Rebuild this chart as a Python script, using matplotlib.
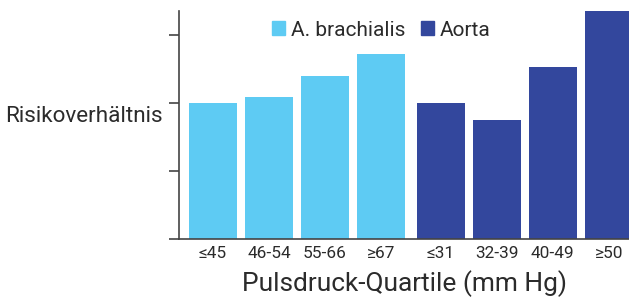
import matplotlib
matplotlib.use("Agg")
import matplotlib.pyplot as plt
from matplotlib.patches import Patch

plt.rcParams['font.family'] = ['Roboto', 'DejaVu Sans']

categories_brach = ["≤45", "46-54", "55-66", "≥67"]
categories_aorta = ["≤31", "32-39", "40-49", "≥50"]
values_brach = [1.00, 1.05, 1.20, 1.36]
values_aorta = [1.00, 0.88, 1.27, 1.70]
series_names = ["A. brachialis", "Aorta"]
yticks = [0, 0.5, 1.0, 1.5]

c_light = "#5ECBF3"
c_dark = "#33479D"
text_c = "#2b2b2b"

W, H = 629, 297
fig = plt.figure(figsize=(W/100, H/100), dpi=100)
ax = fig.add_axes([179.3/W, (H-239.3)/H, (W-179.3)/W, (239.3-11)/H])

x1 = [0, 1, 2, 3]
x2 = [4.07, 5.07, 6.07, 7.07]
bw = 0.86
ax.bar(x1, values_brach, width=bw, color=c_light, label=series_names[0])
ax.bar(x2, values_aorta, width=bw, color=c_dark, label=series_names[1])

ax.set_xlim(-0.60, 7.43)
ax.set_ylim(0, 1.68)
ax.set_yticks(yticks)
ax.set_yticklabels([])
ax.tick_params(axis='y', length=7, width=1.2, color="#444444")
ax.set_xticks(x1 + x2)
ax.set_xticklabels(categories_brach + categories_aorta, fontsize=12.4, color=text_c)
ax.tick_params(axis='x', length=0, pad=5)
for s in ['top', 'right']:
    ax.spines[s].set_visible(False)
for s in ['left', 'bottom']:
    ax.spines[s].set_color("#444444")
    ax.spines[s].set_linewidth(1.2)

ax.set_xlabel("Pulsdruck-Quartile (mm Hg)", fontsize=18.9, color=text_c, va='center')
ax.xaxis.set_label_coords(0.5, -0.195)
ax.set_ylabel("Risikoverhältnis", fontsize=16.2, color=text_c, rotation=0, ha='right', va='center')
ax.yaxis.set_label_coords(-0.036, 0.536)

handles = [Patch(color=c_light), Patch(color=c_dark)]
leg = fig.legend(handles, series_names, loc='center left', bbox_to_anchor=(272/W, 1-30/H),
                 ncol=2, frameon=False, fontsize=15, handlelength=0.61, handleheight=0.61,
                 handletextpad=0.3, columnspacing=0.75, borderaxespad=0, borderpad=0)
for t in leg.get_texts():
    t.set_color(text_c)

fig.savefig("out.png", dpi=100)
